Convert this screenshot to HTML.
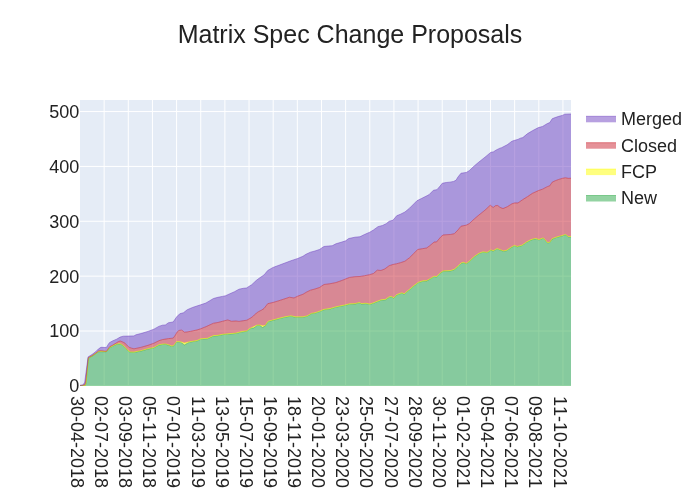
<!DOCTYPE html>
<html><head><meta charset="utf-8"><title>Matrix Spec Change Proposals</title>
<style>html,body{margin:0;padding:0;background:#fff;}body{width:700px;height:500px;overflow:hidden;font-family:"Liberation Sans",sans-serif;}</style></head>
<body>
<svg width="700" height="500" viewBox="0 0 700 500" style="display:block;will-change:transform;font-kerning:none;font-family:'Liberation Sans',sans-serif">
<rect x="0" y="0" width="700" height="500" fill="#fff"/>
<rect x="80" y="100" width="491" height="285.875" fill="#E5ECF6"/>
<clipPath id="c"><rect x="80" y="100" width="491" height="285.875"/></clipPath>
<g clip-path="url(#c)">
<path d="M104.148,100V386" stroke="#fff" stroke-width="1" fill="none"/>
<path d="M128.295,100V386" stroke="#fff" stroke-width="1" fill="none"/>
<path d="M152.442,100V386" stroke="#fff" stroke-width="1" fill="none"/>
<path d="M176.590,100V386" stroke="#fff" stroke-width="1" fill="none"/>
<path d="M200.738,100V386" stroke="#fff" stroke-width="1" fill="none"/>
<path d="M224.885,100V386" stroke="#fff" stroke-width="1" fill="none"/>
<path d="M249.032,100V386" stroke="#fff" stroke-width="1" fill="none"/>
<path d="M273.180,100V386" stroke="#fff" stroke-width="1" fill="none"/>
<path d="M297.327,100V386" stroke="#fff" stroke-width="1" fill="none"/>
<path d="M321.475,100V386" stroke="#fff" stroke-width="1" fill="none"/>
<path d="M345.623,100V386" stroke="#fff" stroke-width="1" fill="none"/>
<path d="M369.770,100V386" stroke="#fff" stroke-width="1" fill="none"/>
<path d="M393.918,100V386" stroke="#fff" stroke-width="1" fill="none"/>
<path d="M418.065,100V386" stroke="#fff" stroke-width="1" fill="none"/>
<path d="M442.213,100V386" stroke="#fff" stroke-width="1" fill="none"/>
<path d="M466.360,100V386" stroke="#fff" stroke-width="1" fill="none"/>
<path d="M490.507,100V386" stroke="#fff" stroke-width="1" fill="none"/>
<path d="M514.655,100V386" stroke="#fff" stroke-width="1" fill="none"/>
<path d="M538.803,100V386" stroke="#fff" stroke-width="1" fill="none"/>
<path d="M562.950,100V386" stroke="#fff" stroke-width="1" fill="none"/>
<path d="M80,331.010H571" stroke="#fff" stroke-width="1" fill="none"/>
<path d="M80,276.145H571" stroke="#fff" stroke-width="1" fill="none"/>
<path d="M80,221.279H571" stroke="#fff" stroke-width="1" fill="none"/>
<path d="M80,166.414H571" stroke="#fff" stroke-width="1" fill="none"/>
<path d="M80,111.549H571" stroke="#fff" stroke-width="1" fill="none"/>
<path d="M80,385.88H571" stroke="#fff" stroke-width="2" fill="none"/>
<path d="M80.02,385.50L85.39,385.41L86.07,382.97L88.42,358.35L92.00,356.30L95.60,353.90L98.60,351.80L101.00,351.68L106.40,351.80L107.72,350.30L109.70,347.72L112.40,346.40L114.80,345.08L117.19,344.30L119.59,344.00L121.39,344.60L123.79,346.40L126.19,348.80L127.99,350.90L130.39,352.28L133.99,352.40L140.78,351.11L147.98,349.08L153.97,347.88L158.77,345.12L162.37,344.52L165.37,344.28L168.37,345.12L171.96,346.44L173.76,345.84L176.76,341.88L180.49,342.16L184.40,344.91L189.49,342.16L196.99,340.96L200.73,339.17L207.48,338.72L213.48,336.02L217.98,335.72L222.47,334.67L227.72,334.22L232.97,333.77L235.97,333.47L242.00,331.90L246.80,331.30L248.90,329.50L251.60,328.00L254.00,327.92L257.00,325.42L260.00,325.42L262.40,327.50L265.39,325.84L267.49,322.42L268.69,321.52L271.99,320.62L278.99,318.72L284.99,317.22L290.98,316.17L295.48,317.22L302.98,317.22L307.47,316.17L311.22,313.78L314.97,313.18L319.47,311.68L323.97,309.73L329.96,308.98L335.96,307.18L341.96,305.98L345.70,305.23L349.45,304.18L355.00,304.03L359.24,302.92L361.49,303.97L365.99,303.67L369.74,304.42L373.49,303.22L377.23,301.72L380.98,300.22L385.48,299.77L389.23,297.22L391.48,296.92L393.73,298.27L396.72,294.98L401.97,293.18L404.22,294.23L409.47,289.73L413.97,285.98L418.46,282.68L422.96,281.18L426.71,281.03L430.46,278.78L434.21,276.68L436.45,276.98L440.95,272.79L443.20,271.29L450.49,270.97L454.24,269.77L457.99,266.47L460.99,263.48L463.24,262.73L466.24,263.78L469.24,261.68L474.48,256.73L478.98,253.73L482.73,252.23L487.23,252.68L490.97,250.28L493.22,251.18L496.97,248.93L499.22,249.68L500.00,250.08L503.60,251.28L506.60,250.68L511.99,247.08L514.39,245.88L517.39,246.84L522.19,245.52L525.79,242.88L529.99,240.49L534.18,239.05L535.98,238.93L538.98,239.89L543.18,238.33L544.98,239.89L547.38,242.88L549.78,242.64L552.17,239.05L556.37,237.49L559.97,236.53L562.97,235.69L565.37,234.85L568.37,236.89L571.00,236.89L571.00,385.88L80.00,385.88Z" fill="#28a745" fill-opacity="0.5"/>
<path d="M80.02,385.50L85.39,385.41L86.07,382.57L88.42,357.95L92.00,355.90L95.60,353.50L98.60,351.40L101.00,351.28L106.40,351.40L107.72,349.90L109.70,347.32L112.40,346.00L114.80,344.68L117.19,343.90L119.59,343.60L121.39,344.20L123.79,346.00L126.19,348.40L127.99,350.50L130.39,351.88L133.99,352.00L140.78,350.71L147.98,348.68L153.97,347.48L158.77,344.72L162.37,344.12L165.37,343.88L168.37,344.72L171.96,346.04L173.76,345.44L176.76,341.48L180.49,341.76L184.40,342.91L189.49,341.76L196.99,340.56L200.73,338.77L207.48,338.32L213.48,335.62L217.98,335.32L222.47,334.27L227.72,333.82L232.97,333.37L235.97,333.07L242.00,331.50L246.80,330.90L248.90,329.10L251.60,327.60L254.00,326.62L257.00,325.02L260.00,325.02L262.40,325.80L265.39,325.44L267.49,322.02L268.69,321.12L271.99,320.22L278.99,318.32L284.99,316.82L290.98,315.77L295.48,316.82L302.98,316.82L307.47,315.77L311.22,313.38L314.97,312.78L319.47,311.28L323.97,309.33L329.96,308.58L335.96,306.78L341.96,305.58L345.70,304.83L349.45,303.78L355.00,303.63L359.24,302.52L361.49,303.57L365.99,303.27L369.74,304.02L373.49,302.82L377.23,301.32L380.98,299.82L385.48,299.37L389.23,296.82L391.48,296.52L393.73,297.87L396.72,294.58L401.97,292.78L404.22,293.83L409.47,289.33L413.97,285.58L418.46,282.28L422.96,280.78L426.71,280.63L430.46,278.38L434.21,276.28L436.45,276.58L440.95,272.39L443.20,270.89L450.49,270.57L454.24,269.37L457.99,266.07L460.99,263.08L463.24,262.33L466.24,263.38L469.24,261.28L474.48,256.33L478.98,253.33L482.73,251.83L487.23,252.28L490.97,249.88L493.22,250.78L496.97,248.53L499.22,249.28L500.00,249.68L503.60,250.88L506.60,250.28L511.99,246.68L514.39,245.48L517.39,246.44L522.19,245.12L525.79,242.48L529.99,240.09L534.18,238.65L535.98,238.53L538.98,239.49L543.18,237.93L544.98,239.49L547.38,242.48L549.78,242.24L552.17,238.65L556.37,237.09L559.97,236.13L562.97,235.29L565.37,234.45L568.37,236.49L571.00,236.49L571.00,236.89L568.37,236.89L565.37,234.85L562.97,235.69L559.97,236.53L556.37,237.49L552.17,239.05L549.78,242.64L547.38,242.88L544.98,239.89L543.18,238.33L538.98,239.89L535.98,238.93L534.18,239.05L529.99,240.49L525.79,242.88L522.19,245.52L517.39,246.84L514.39,245.88L511.99,247.08L506.60,250.68L503.60,251.28L500.00,250.08L499.22,249.68L496.97,248.93L493.22,251.18L490.97,250.28L487.23,252.68L482.73,252.23L478.98,253.73L474.48,256.73L469.24,261.68L466.24,263.78L463.24,262.73L460.99,263.48L457.99,266.47L454.24,269.77L450.49,270.97L443.20,271.29L440.95,272.79L436.45,276.98L434.21,276.68L430.46,278.78L426.71,281.03L422.96,281.18L418.46,282.68L413.97,285.98L409.47,289.73L404.22,294.23L401.97,293.18L396.72,294.98L393.73,298.27L391.48,296.92L389.23,297.22L385.48,299.77L380.98,300.22L377.23,301.72L373.49,303.22L369.74,304.42L365.99,303.67L361.49,303.97L359.24,302.92L355.00,304.03L349.45,304.18L345.70,305.23L341.96,305.98L335.96,307.18L329.96,308.98L323.97,309.73L319.47,311.68L314.97,313.18L311.22,313.78L307.47,316.17L302.98,317.22L295.48,317.22L290.98,316.17L284.99,317.22L278.99,318.72L271.99,320.62L268.69,321.52L267.49,322.42L265.39,325.84L262.40,327.50L260.00,325.42L257.00,325.42L254.00,327.92L251.60,328.00L248.90,329.50L246.80,331.30L242.00,331.90L235.97,333.47L232.97,333.77L227.72,334.22L222.47,334.67L217.98,335.72L213.48,336.02L207.48,338.72L200.73,339.17L196.99,340.96L189.49,342.16L184.40,344.91L180.49,342.16L176.76,341.88L173.76,345.84L171.96,346.44L168.37,345.12L165.37,344.28L162.37,344.52L158.77,345.12L153.97,347.88L147.98,349.08L140.78,351.11L133.99,352.40L130.39,352.28L127.99,350.90L126.19,348.80L123.79,346.40L121.39,344.60L119.59,344.00L117.19,344.30L114.80,345.08L112.40,346.40L109.70,347.72L107.72,350.30L106.40,351.80L101.00,351.68L98.60,351.80L95.60,353.90L92.00,356.30L88.42,358.35L86.07,382.97L85.39,385.41L80.02,385.50Z" fill="#ffff00" fill-opacity="0.5"/>
<path d="M80.02,385.50L84.72,384.82L85.56,382.13L88.25,357.60L92.00,355.70L95.60,353.30L98.60,350.90L101.00,350.72L106.40,351.32L107.72,349.40L109.70,346.70L112.40,345.32L116.00,343.10L118.39,341.60L120.19,341.00L122.59,341.90L124.99,343.10L127.39,345.80L129.19,347.30L131.59,348.20L133.99,348.80L140.78,347.38L147.98,345.34L153.97,343.18L158.77,340.78L162.37,339.58L168.37,338.62L173.16,338.14L175.38,335.09L177.18,331.94L178.98,330.41L181.67,330.14L183.02,331.04L184.37,332.21L187.07,331.94L190.67,331.31L194.00,330.59L196.99,329.97L200.73,328.77L205.98,326.67L213.48,323.22L217.98,322.47L222.47,321.27L227.72,319.93L231.47,321.27L235.97,320.97L239.00,321.40L246.80,320.20L251.00,317.80L253.40,316.00L256.40,313.00L258.80,311.50L261.79,310.00L264.00,308.48L267.74,303.68L272.99,302.48L278.99,300.68L284.99,298.73L289.48,297.23L293.98,297.98L297.73,296.18L302.98,294.24L306.72,291.99L310.47,290.19L314.97,288.99L319.47,287.49L323.97,284.49L329.96,283.74L335.96,282.54L341.96,280.44L349.45,277.44L355.00,276.69L359.99,276.47L364.49,275.72L369.74,274.67L373.49,273.47L377.23,270.17L380.98,270.47L384.73,268.97L389.23,265.67L392.98,264.48L396.72,263.73L400.47,262.68L404.97,261.18L409.47,257.73L413.97,253.23L417.71,249.48L422.21,248.73L426.71,247.98L429.71,245.73L434.21,241.99L436.45,241.99L440.95,236.74L443.20,234.94L450.49,234.47L454.24,233.72L457.99,229.97L460.99,226.22L466.24,225.17L469.24,223.67L474.48,218.73L478.98,214.98L484.98,210.18L490.22,205.23L493.22,207.48L495.47,205.68L497.72,205.53L500.00,207.38L503.00,208.58L507.20,206.78L511.99,203.78L514.63,202.94L517.99,202.94L522.79,199.58L527.59,196.58L532.38,193.34L538.38,190.58L542.58,189.15L547.38,186.63L549.78,185.79L552.17,182.19L555.17,180.75L558.77,179.43L562.37,178.35L565.37,177.75L568.37,178.35L571.00,178.23L571.00,236.49L568.37,236.49L565.37,234.45L562.97,235.29L559.97,236.13L556.37,237.09L552.17,238.65L549.78,242.24L547.38,242.48L544.98,239.49L543.18,237.93L538.98,239.49L535.98,238.53L534.18,238.65L529.99,240.09L525.79,242.48L522.19,245.12L517.39,246.44L514.39,245.48L511.99,246.68L506.60,250.28L503.60,250.88L500.00,249.68L499.22,249.28L496.97,248.53L493.22,250.78L490.97,249.88L487.23,252.28L482.73,251.83L478.98,253.33L474.48,256.33L469.24,261.28L466.24,263.38L463.24,262.33L460.99,263.08L457.99,266.07L454.24,269.37L450.49,270.57L443.20,270.89L440.95,272.39L436.45,276.58L434.21,276.28L430.46,278.38L426.71,280.63L422.96,280.78L418.46,282.28L413.97,285.58L409.47,289.33L404.22,293.83L401.97,292.78L396.72,294.58L393.73,297.87L391.48,296.52L389.23,296.82L385.48,299.37L380.98,299.82L377.23,301.32L373.49,302.82L369.74,304.02L365.99,303.27L361.49,303.57L359.24,302.52L355.00,303.63L349.45,303.78L345.70,304.83L341.96,305.58L335.96,306.78L329.96,308.58L323.97,309.33L319.47,311.28L314.97,312.78L311.22,313.38L307.47,315.77L302.98,316.82L295.48,316.82L290.98,315.77L284.99,316.82L278.99,318.32L271.99,320.22L268.69,321.12L267.49,322.02L265.39,325.44L262.40,325.80L260.00,325.02L257.00,325.02L254.00,326.62L251.60,327.60L248.90,329.10L246.80,330.90L242.00,331.50L235.97,333.07L232.97,333.37L227.72,333.82L222.47,334.27L217.98,335.32L213.48,335.62L207.48,338.32L200.73,338.77L196.99,340.56L189.49,341.76L184.40,342.91L180.49,341.76L176.76,341.48L173.76,345.44L171.96,346.04L168.37,344.72L165.37,343.88L162.37,344.12L158.77,344.72L153.97,347.48L147.98,348.68L140.78,350.71L133.99,352.00L130.39,351.88L127.99,350.50L126.19,348.40L123.79,346.00L121.39,344.20L119.59,343.60L117.19,343.90L114.80,344.68L112.40,346.00L109.70,347.32L107.72,349.90L106.40,351.40L101.00,351.28L98.60,351.40L95.60,353.50L92.00,355.90L88.42,357.95L86.07,382.57L85.39,385.41L80.02,385.50Z" fill="#cb2431" fill-opacity="0.5"/>
<path d="M80.02,385.33L82.87,385.16L84.72,382.13L88.08,356.92L92.00,354.50L95.60,351.80L98.60,348.80L101.00,347.30L106.40,347.48L107.72,345.20L109.40,342.68L112.40,341.00L116.60,339.20L120.19,337.10L123.19,336.20L127.99,336.08L133.99,335.90L135.98,334.78L140.78,333.58L147.98,331.42L153.97,329.15L158.77,326.39L162.37,325.19L165.37,324.95L168.37,322.79L173.16,321.95L176.76,316.79L179.75,313.78L183.49,312.73L187.24,309.73L192.49,307.48L196.99,305.98L200.73,304.78L205.98,302.98L209.73,300.73L213.48,298.49L217.98,297.29L222.47,296.39L225.47,295.79L229.97,293.69L234.47,291.74L238.97,289.19L243.46,288.29L246.46,287.99L251.71,284.69L256.21,280.49L259.50,277.97L264.00,274.97L267.74,270.47L272.99,267.47L278.99,265.22L284.99,262.98L290.98,260.73L297.73,258.48L302.98,256.23L305.97,254.28L310.47,252.18L314.97,250.98L319.47,249.48L323.97,246.48L328.46,246.03L332.21,245.73L335.96,243.79L341.96,241.99L345.70,240.79L348.70,238.54L355.00,237.19L359.99,236.72L364.49,234.47L369.74,232.22L373.49,229.97L377.98,226.67L382.48,225.47L386.23,223.67L389.23,221.27L392.98,220.22L396.72,215.73L400.47,214.23L404.97,211.98L409.47,208.23L413.97,203.73L416.96,200.73L421.46,198.49L425.96,196.24L428.96,194.74L433.46,190.24L436.93,189.68L440.08,186.09L442.33,183.21L446.37,182.49L449.97,182.13L453.57,181.41L456.00,180.24L457.99,176.97L460.99,173.22L466.24,172.47L469.24,170.67L474.48,165.73L478.98,161.98L484.98,157.18L490.97,152.23L493.22,151.93L496.22,149.99L500.00,148.13L501.47,147.74L507.20,144.78L511.99,141.18L514.63,140.34L517.99,139.38L520.39,138.18L522.79,137.58L527.59,133.62L532.38,130.74L538.38,127.62L542.58,126.42L547.38,123.55L549.78,122.59L552.17,118.75L555.17,117.55L558.77,116.35L562.37,115.39L564.77,114.19L571.00,113.95L571.00,178.23L568.37,178.35L565.37,177.75L562.37,178.35L558.77,179.43L555.17,180.75L552.17,182.19L549.78,185.79L547.38,186.63L542.58,189.15L538.38,190.58L532.38,193.34L527.59,196.58L522.79,199.58L517.99,202.94L514.63,202.94L511.99,203.78L507.20,206.78L503.00,208.58L500.00,207.38L497.72,205.53L495.47,205.68L493.22,207.48L490.22,205.23L484.98,210.18L478.98,214.98L474.48,218.73L469.24,223.67L466.24,225.17L460.99,226.22L457.99,229.97L454.24,233.72L450.49,234.47L443.20,234.94L440.95,236.74L436.45,241.99L434.21,241.99L429.71,245.73L426.71,247.98L422.21,248.73L417.71,249.48L413.97,253.23L409.47,257.73L404.97,261.18L400.47,262.68L396.72,263.73L392.98,264.48L389.23,265.67L384.73,268.97L380.98,270.47L377.23,270.17L373.49,273.47L369.74,274.67L364.49,275.72L359.99,276.47L355.00,276.69L349.45,277.44L341.96,280.44L335.96,282.54L329.96,283.74L323.97,284.49L319.47,287.49L314.97,288.99L310.47,290.19L306.72,291.99L302.98,294.24L297.73,296.18L293.98,297.98L289.48,297.23L284.99,298.73L278.99,300.68L272.99,302.48L267.74,303.68L264.00,308.48L261.79,310.00L258.80,311.50L256.40,313.00L253.40,316.00L251.00,317.80L246.80,320.20L239.00,321.40L235.97,320.97L231.47,321.27L227.72,319.93L222.47,321.27L217.98,322.47L213.48,323.22L205.98,326.67L200.73,328.77L196.99,329.97L194.00,330.59L190.67,331.31L187.07,331.94L184.37,332.21L183.02,331.04L181.67,330.14L178.98,330.41L177.18,331.94L175.38,335.09L173.16,338.14L168.37,338.62L162.37,339.58L158.77,340.78L153.97,343.18L147.98,345.34L140.78,347.38L133.99,348.80L131.59,348.20L129.19,347.30L127.39,345.80L124.99,343.10L122.59,341.90L120.19,341.00L118.39,341.60L116.00,343.10L112.40,345.32L109.70,346.70L107.72,349.40L106.40,351.32L101.00,350.72L98.60,350.90L95.60,353.30L92.00,355.70L88.25,357.60L85.56,382.13L84.72,384.82L80.02,385.50Z" fill="#6f42c1" fill-opacity="0.5"/>
<path d="M80.02,385.50L85.39,385.41L86.07,382.97L88.42,358.35L92.00,356.30L95.60,353.90L98.60,351.80L101.00,351.68L106.40,351.80L107.72,350.30L109.70,347.72L112.40,346.40L114.80,345.08L117.19,344.30L119.59,344.00L121.39,344.60L123.79,346.40L126.19,348.80L127.99,350.90L130.39,352.28L133.99,352.40L140.78,351.11L147.98,349.08L153.97,347.88L158.77,345.12L162.37,344.52L165.37,344.28L168.37,345.12L171.96,346.44L173.76,345.84L176.76,341.88L180.49,342.16L184.40,344.91L189.49,342.16L196.99,340.96L200.73,339.17L207.48,338.72L213.48,336.02L217.98,335.72L222.47,334.67L227.72,334.22L232.97,333.77L235.97,333.47L242.00,331.90L246.80,331.30L248.90,329.50L251.60,328.00L254.00,327.92L257.00,325.42L260.00,325.42L262.40,327.50L265.39,325.84L267.49,322.42L268.69,321.52L271.99,320.62L278.99,318.72L284.99,317.22L290.98,316.17L295.48,317.22L302.98,317.22L307.47,316.17L311.22,313.78L314.97,313.18L319.47,311.68L323.97,309.73L329.96,308.98L335.96,307.18L341.96,305.98L345.70,305.23L349.45,304.18L355.00,304.03L359.24,302.92L361.49,303.97L365.99,303.67L369.74,304.42L373.49,303.22L377.23,301.72L380.98,300.22L385.48,299.77L389.23,297.22L391.48,296.92L393.73,298.27L396.72,294.98L401.97,293.18L404.22,294.23L409.47,289.73L413.97,285.98L418.46,282.68L422.96,281.18L426.71,281.03L430.46,278.78L434.21,276.68L436.45,276.98L440.95,272.79L443.20,271.29L450.49,270.97L454.24,269.77L457.99,266.47L460.99,263.48L463.24,262.73L466.24,263.78L469.24,261.68L474.48,256.73L478.98,253.73L482.73,252.23L487.23,252.68L490.97,250.28L493.22,251.18L496.97,248.93L499.22,249.68L500.00,250.08L503.60,251.28L506.60,250.68L511.99,247.08L514.39,245.88L517.39,246.84L522.19,245.52L525.79,242.88L529.99,240.49L534.18,239.05L535.98,238.93L538.98,239.89L543.18,238.33L544.98,239.89L547.38,242.88L549.78,242.64L552.17,239.05L556.37,237.49L559.97,236.53L562.97,235.69L565.37,234.85L568.37,236.89L571.00,236.89" stroke="#28a745" stroke-width="0.5" fill="none" stroke-linejoin="round"/>
<path d="M80.02,385.50L85.39,385.41L86.07,382.57L88.42,357.95L92.00,355.90L95.60,353.50L98.60,351.40L101.00,351.28L106.40,351.40L107.72,349.90L109.70,347.32L112.40,346.00L114.80,344.68L117.19,343.90L119.59,343.60L121.39,344.20L123.79,346.00L126.19,348.40L127.99,350.50L130.39,351.88L133.99,352.00L140.78,350.71L147.98,348.68L153.97,347.48L158.77,344.72L162.37,344.12L165.37,343.88L168.37,344.72L171.96,346.04L173.76,345.44L176.76,341.48L180.49,341.76L184.40,342.91L189.49,341.76L196.99,340.56L200.73,338.77L207.48,338.32L213.48,335.62L217.98,335.32L222.47,334.27L227.72,333.82L232.97,333.37L235.97,333.07L242.00,331.50L246.80,330.90L248.90,329.10L251.60,327.60L254.00,326.62L257.00,325.02L260.00,325.02L262.40,325.80L265.39,325.44L267.49,322.02L268.69,321.12L271.99,320.22L278.99,318.32L284.99,316.82L290.98,315.77L295.48,316.82L302.98,316.82L307.47,315.77L311.22,313.38L314.97,312.78L319.47,311.28L323.97,309.33L329.96,308.58L335.96,306.78L341.96,305.58L345.70,304.83L349.45,303.78L355.00,303.63L359.24,302.52L361.49,303.57L365.99,303.27L369.74,304.02L373.49,302.82L377.23,301.32L380.98,299.82L385.48,299.37L389.23,296.82L391.48,296.52L393.73,297.87L396.72,294.58L401.97,292.78L404.22,293.83L409.47,289.33L413.97,285.58L418.46,282.28L422.96,280.78L426.71,280.63L430.46,278.38L434.21,276.28L436.45,276.58L440.95,272.39L443.20,270.89L450.49,270.57L454.24,269.37L457.99,266.07L460.99,263.08L463.24,262.33L466.24,263.38L469.24,261.28L474.48,256.33L478.98,253.33L482.73,251.83L487.23,252.28L490.97,249.88L493.22,250.78L496.97,248.53L499.22,249.28L500.00,249.68L503.60,250.88L506.60,250.28L511.99,246.68L514.39,245.48L517.39,246.44L522.19,245.12L525.79,242.48L529.99,240.09L534.18,238.65L535.98,238.53L538.98,239.49L543.18,237.93L544.98,239.49L547.38,242.48L549.78,242.24L552.17,238.65L556.37,237.09L559.97,236.13L562.97,235.29L565.37,234.45L568.37,236.49L571.00,236.49" stroke="#ffff00" stroke-width="0.5" fill="none" stroke-linejoin="round"/>
<path d="M80.02,385.50L84.72,384.82L85.56,382.13L88.25,357.60L92.00,355.70L95.60,353.30L98.60,350.90L101.00,350.72L106.40,351.32L107.72,349.40L109.70,346.70L112.40,345.32L116.00,343.10L118.39,341.60L120.19,341.00L122.59,341.90L124.99,343.10L127.39,345.80L129.19,347.30L131.59,348.20L133.99,348.80L140.78,347.38L147.98,345.34L153.97,343.18L158.77,340.78L162.37,339.58L168.37,338.62L173.16,338.14L175.38,335.09L177.18,331.94L178.98,330.41L181.67,330.14L183.02,331.04L184.37,332.21L187.07,331.94L190.67,331.31L194.00,330.59L196.99,329.97L200.73,328.77L205.98,326.67L213.48,323.22L217.98,322.47L222.47,321.27L227.72,319.93L231.47,321.27L235.97,320.97L239.00,321.40L246.80,320.20L251.00,317.80L253.40,316.00L256.40,313.00L258.80,311.50L261.79,310.00L264.00,308.48L267.74,303.68L272.99,302.48L278.99,300.68L284.99,298.73L289.48,297.23L293.98,297.98L297.73,296.18L302.98,294.24L306.72,291.99L310.47,290.19L314.97,288.99L319.47,287.49L323.97,284.49L329.96,283.74L335.96,282.54L341.96,280.44L349.45,277.44L355.00,276.69L359.99,276.47L364.49,275.72L369.74,274.67L373.49,273.47L377.23,270.17L380.98,270.47L384.73,268.97L389.23,265.67L392.98,264.48L396.72,263.73L400.47,262.68L404.97,261.18L409.47,257.73L413.97,253.23L417.71,249.48L422.21,248.73L426.71,247.98L429.71,245.73L434.21,241.99L436.45,241.99L440.95,236.74L443.20,234.94L450.49,234.47L454.24,233.72L457.99,229.97L460.99,226.22L466.24,225.17L469.24,223.67L474.48,218.73L478.98,214.98L484.98,210.18L490.22,205.23L493.22,207.48L495.47,205.68L497.72,205.53L500.00,207.38L503.00,208.58L507.20,206.78L511.99,203.78L514.63,202.94L517.99,202.94L522.79,199.58L527.59,196.58L532.38,193.34L538.38,190.58L542.58,189.15L547.38,186.63L549.78,185.79L552.17,182.19L555.17,180.75L558.77,179.43L562.37,178.35L565.37,177.75L568.37,178.35L571.00,178.23" stroke="#cb2431" stroke-width="0.5" fill="none" stroke-linejoin="round"/>
<path d="M80.02,385.33L82.87,385.16L84.72,382.13L88.08,356.92L92.00,354.50L95.60,351.80L98.60,348.80L101.00,347.30L106.40,347.48L107.72,345.20L109.40,342.68L112.40,341.00L116.60,339.20L120.19,337.10L123.19,336.20L127.99,336.08L133.99,335.90L135.98,334.78L140.78,333.58L147.98,331.42L153.97,329.15L158.77,326.39L162.37,325.19L165.37,324.95L168.37,322.79L173.16,321.95L176.76,316.79L179.75,313.78L183.49,312.73L187.24,309.73L192.49,307.48L196.99,305.98L200.73,304.78L205.98,302.98L209.73,300.73L213.48,298.49L217.98,297.29L222.47,296.39L225.47,295.79L229.97,293.69L234.47,291.74L238.97,289.19L243.46,288.29L246.46,287.99L251.71,284.69L256.21,280.49L259.50,277.97L264.00,274.97L267.74,270.47L272.99,267.47L278.99,265.22L284.99,262.98L290.98,260.73L297.73,258.48L302.98,256.23L305.97,254.28L310.47,252.18L314.97,250.98L319.47,249.48L323.97,246.48L328.46,246.03L332.21,245.73L335.96,243.79L341.96,241.99L345.70,240.79L348.70,238.54L355.00,237.19L359.99,236.72L364.49,234.47L369.74,232.22L373.49,229.97L377.98,226.67L382.48,225.47L386.23,223.67L389.23,221.27L392.98,220.22L396.72,215.73L400.47,214.23L404.97,211.98L409.47,208.23L413.97,203.73L416.96,200.73L421.46,198.49L425.96,196.24L428.96,194.74L433.46,190.24L436.93,189.68L440.08,186.09L442.33,183.21L446.37,182.49L449.97,182.13L453.57,181.41L456.00,180.24L457.99,176.97L460.99,173.22L466.24,172.47L469.24,170.67L474.48,165.73L478.98,161.98L484.98,157.18L490.97,152.23L493.22,151.93L496.22,149.99L500.00,148.13L501.47,147.74L507.20,144.78L511.99,141.18L514.63,140.34L517.99,139.38L520.39,138.18L522.79,137.58L527.59,133.62L532.38,130.74L538.38,127.62L542.58,126.42L547.38,123.55L549.78,122.59L552.17,118.75L555.17,117.55L558.77,116.35L562.37,115.39L564.77,114.19L571.00,113.95" stroke="#6f42c1" stroke-width="0.5" fill="none" stroke-linejoin="round"/>
</g>
<text x="350" y="42.6" text-anchor="middle" font-size="25" fill="#222222">Matrix Spec Change Proposals</text>
<text x="79.2" y="392.27" text-anchor="end" font-size="18" fill="#222222">0</text>
<text x="79.2" y="337.41" text-anchor="end" font-size="18" fill="#222222">100</text>
<text x="79.2" y="282.54" text-anchor="end" font-size="18" fill="#222222">200</text>
<text x="79.2" y="227.68" text-anchor="end" font-size="18" fill="#222222">300</text>
<text x="79.2" y="172.81" text-anchor="end" font-size="18" fill="#222222">400</text>
<text x="79.2" y="117.95" text-anchor="end" font-size="18" fill="#222222">500</text>
<text transform="translate(70.80,396) rotate(90)" font-size="18" fill="#222222">30-04-2018</text>
<text transform="translate(94.94,396) rotate(90)" font-size="18" fill="#222222">02-07-2018</text>
<text transform="translate(119.08,396) rotate(90)" font-size="18" fill="#222222">03-09-2018</text>
<text transform="translate(143.22,396) rotate(90)" font-size="18" fill="#222222">05-11-2018</text>
<text transform="translate(167.36,396) rotate(90)" font-size="18" fill="#222222">07-01-2019</text>
<text transform="translate(191.50,396) rotate(90)" font-size="18" fill="#222222">11-03-2019</text>
<text transform="translate(215.64,396) rotate(90)" font-size="18" fill="#222222">13-05-2019</text>
<text transform="translate(239.78,396) rotate(90)" font-size="18" fill="#222222">15-07-2019</text>
<text transform="translate(263.92,396) rotate(90)" font-size="18" fill="#222222">16-09-2019</text>
<text transform="translate(288.06,396) rotate(90)" font-size="18" fill="#222222">18-11-2019</text>
<text transform="translate(312.20,396) rotate(90)" font-size="18" fill="#222222">20-01-2020</text>
<text transform="translate(336.34,396) rotate(90)" font-size="18" fill="#222222">23-03-2020</text>
<text transform="translate(360.48,396) rotate(90)" font-size="18" fill="#222222">25-05-2020</text>
<text transform="translate(384.62,396) rotate(90)" font-size="18" fill="#222222">27-07-2020</text>
<text transform="translate(408.76,396) rotate(90)" font-size="18" fill="#222222">28-09-2020</text>
<text transform="translate(432.90,396) rotate(90)" font-size="18" fill="#222222">30-11-2020</text>
<text transform="translate(457.04,396) rotate(90)" font-size="18" fill="#222222">01-02-2021</text>
<text transform="translate(481.18,396) rotate(90)" font-size="18" fill="#222222">05-04-2021</text>
<text transform="translate(505.32,396) rotate(90)" font-size="18" fill="#222222">07-06-2021</text>
<text transform="translate(529.46,396) rotate(90)" font-size="18" fill="#222222">09-08-2021</text>
<text transform="translate(553.60,396) rotate(90)" font-size="18" fill="#222222">11-10-2021</text>
<rect x="586" y="116.30" width="30" height="6" fill="#6f42c1" fill-opacity="0.5"/>
<path d="M586,116.30H616" stroke="#6f42c1" stroke-width="0.5" fill="none"/>
<text x="621" y="125.40" font-size="18" fill="#222222">Merged</text>
<rect x="586" y="142.70" width="30" height="6" fill="#cb2431" fill-opacity="0.5"/>
<path d="M586,142.70H616" stroke="#cb2431" stroke-width="0.5" fill="none"/>
<text x="621" y="151.80" font-size="18" fill="#222222">Closed</text>
<rect x="586" y="169.10" width="30" height="6" fill="#ffff00" fill-opacity="0.5"/>
<path d="M586,169.10H616" stroke="#ffff00" stroke-width="0.5" fill="none"/>
<text x="621" y="178.20" font-size="18" fill="#222222">FCP</text>
<rect x="586" y="195.50" width="30" height="6" fill="#28a745" fill-opacity="0.5"/>
<path d="M586,195.50H616" stroke="#28a745" stroke-width="0.5" fill="none"/>
<text x="621" y="203.80" font-size="18" fill="#222222">New</text>
</svg>
</body></html>
